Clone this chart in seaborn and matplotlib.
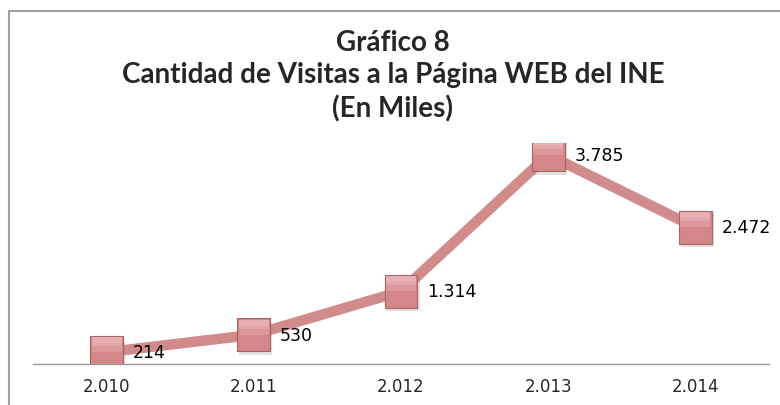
import matplotlib
matplotlib.use("Agg")
import matplotlib.pyplot as plt
import matplotlib.patheffects as pe
from matplotlib.lines import Line2D
from matplotlib.path import Path
import seaborn as sns
import numpy as np

# Data (visits in thousands)
anios = ["2.010", "2.011", "2.012", "2.013", "2.014"]
visitas = [214, 530, 1314, 3785, 2472]
etiquetas = [f"{v:,}".replace(",", ".") for v in visitas]

sns.set_style("white")
plt.rcParams["font.family"] = ["DejaVu Sans"]

line_color = "#d18b8b"
marker_face = "#d4868a"
marker_edge = "#a96466"
marker_size = 560

fig = plt.figure(figsize=(7.8, 4.05), dpi=100)
ax = fig.add_axes([33 / 780, 41 / 405, 736 / 780, 221 / 405])

x = np.arange(len(anios))

# thick line
sns.lineplot(x=x, y=visitas, ax=ax, color=line_color, linewidth=7.5, zorder=2)
# square markers with a soft shadow
sns.scatterplot(x=x, y=visitas, ax=ax, marker="s", s=marker_size, color=marker_face,
                edgecolor=marker_edge, linewidth=0.8, zorder=3,
                path_effects=[pe.SimplePatchShadow(offset=(1.5, -2.5), alpha=0.22, shadow_rgbFace="#777777"),
                              pe.Normal()])

# stacked translucent bands at the top of each square -> soft bevel highlight
for low in [0.0, 0.2, 0.32]:
    band = Path([(-0.5, low), (0.5, low), (0.5, 0.5), (-0.5, 0.5), (-0.5, low)],
                [Path.MOVETO, Path.LINETO, Path.LINETO, Path.LINETO, Path.CLOSEPOLY])
    sns.scatterplot(x=x, y=visitas, ax=ax, marker=band, s=marker_size * 0.8,
                    color="#f4d0d0", alpha=0.25, linewidth=0, zorder=4)

# data labels to the right of each marker
for xi, yi, lab in zip(x, visitas, etiquetas):
    ax.annotate(lab, (xi, yi), xytext=(26, -1), textcoords="offset pixels",
                ha="left", va="center", fontsize=12.5, color="black")

ax.set_xlim(-0.5, 4.5)
ax.set_ylim(0, 4000)
ax.set_xticks(x)
ax.set_xticklabels(anios, fontsize=12)
ax.set_xticks([4.5], minor=True)
ax.set_yticks([])
ax.tick_params(axis="x", which="both", direction="in", length=3, width=1, color="#9a9a9a", pad=10)
for s in ["top", "right", "left"]:
    ax.spines[s].set_visible(False)
ax.spines["bottom"].set_color("#9a9a9a")
ax.spines["bottom"].set_linewidth(1)
ax.set_xlabel("")
ax.set_ylabel("")

# chart-area border (left and top edges visible)
fig.add_artist(Line2D([9 / 780, 9 / 780], [0, 1 - 11 / 405], transform=fig.transFigure, color="#a0a0a0", linewidth=1.5))
fig.add_artist(Line2D([9 / 780, 1], [1 - 11 / 405, 1 - 11 / 405], transform=fig.transFigure, color="#a0a0a0", linewidth=1.5))

fig.text(393 / 780, 1 - 30 / 405,
         "Gráfico 8\nCantidad de Visitas a la Página WEB del INE\n(En Miles)",
         ha="center", va="top", fontsize=20, fontweight="bold", family=["Lato", "DejaVu Sans"],
         linespacing=1.3)

fig.savefig("out.png", dpi=100)
